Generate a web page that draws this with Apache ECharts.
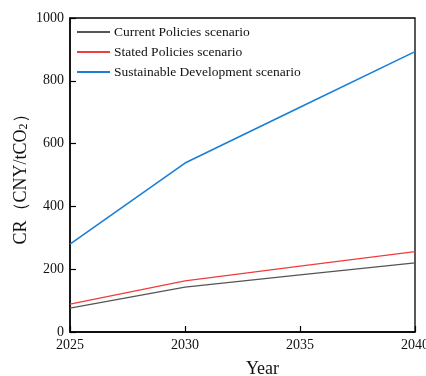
<!DOCTYPE html>
<html>
<head>
<meta charset="utf-8">
<script src="https://cdn.jsdelivr.net/npm/echarts@6/dist/echarts.min.js"></script>
<style>
  html, body { margin: 0; padding: 0; background: #fff; }
  #chart { width: 426px; height: 376px; }
</style>
</head>
<body>
<div id="chart"></div>
<script>
// years on the x axis
var years = [2025, 2030, 2035, 2040]
// carbon price, CNY/tCO2
var currentPolicies = [76, 143, 182, 220]
var statedPolicies = [89, 163, 210, 256]
var sustainableDev = [280, 538, 716, 893]
var yTicks = [0, 200, 400, 600, 800, 1000]

var serif = '"Liberation Serif", "DejaVu Serif", serif'

var chart = echarts.init(document.getElementById('chart'))
chart.setOption({
  animation: false,
  textStyle: { fontFamily: serif },
  grid: {
    left: 70,
    right: 11,
    top: 18,
    bottom: 44,
    outerBoundsMode: 'none',
    containLabel: false,
    show: true,
    borderColor: '#000',
    borderWidth: 1.3
  },
  legend: {
    orient: 'vertical',
    left: 72,
    top: 20,
    itemWidth: 33,
    itemHeight: 2,
    itemGap: 6,
    icon: 'rect',
    textStyle: { fontFamily: serif, fontSize: 13.5, color: '#111', padding: [0, 0, 0, -1] },
    data: ['Current Policies scenario', 'Stated Policies scenario', 'Sustainable Development scenario']
  },
  xAxis: {
    type: 'value',
    min: years[0],
    max: years[years.length - 1],
    interval: 5,
    name: 'Year',
    nameLocation: 'middle',
    nameGap: 28,
    nameMoveOverlap: false,
    nameTextStyle: { fontFamily: serif, fontSize: 18, color: '#111', padding: [0, 0, 0, 40] },
    axisLine: { lineStyle: { color: '#000', width: 1.5 } },
    axisTick: { inside: true, length: 6, lineStyle: { color: '#000', width: 1.2 } },
    axisLabel: { fontFamily: serif, fontSize: 14, color: '#111', margin: 6, formatter: function(v) { return String(v) } },
    splitLine: { show: false }
  },
  yAxis: {
    type: 'value',
    min: yTicks[0],
    max: yTicks[yTicks.length - 1],
    interval: 200,
    name: 'CR（CNY/tCO{sub|2}）',
    nameLocation: 'middle',
    nameGap: 40,
    nameMoveOverlap: false,
    nameRotate: 90,
    nameTextStyle: {
      fontFamily: serif,
      fontSize: 18,
      color: '#111',
      rich: {
        sub: { fontFamily: serif, fontSize: 12, color: '#111', verticalAlign: 'bottom', padding: [6, 0, 0, 0] }
      }
    },
    axisLine: { show: true, lineStyle: { color: '#000', width: 1.5 } },
    axisTick: { show: true, inside: true, length: 6, lineStyle: { color: '#000', width: 1.2 } },
    axisLabel: { fontFamily: serif, fontSize: 14, color: '#111', margin: 6, formatter: function(v) { return String(v) } },
    splitLine: { show: false }
  },
  series: [
    {
      name: 'Current Policies scenario',
      type: 'line',
      symbol: 'none',
      color: '#555555',
      lineStyle: { width: 1.3, color: '#555555' },
      data: years.map(function(y, i) { return [y, currentPolicies[i]] })
    },
    {
      name: 'Stated Policies scenario',
      type: 'line',
      symbol: 'none',
      color: '#f03c3c',
      lineStyle: { width: 1.3, color: '#f03c3c' },
      data: years.map(function(y, i) { return [y, statedPolicies[i]] })
    },
    {
      name: 'Sustainable Development scenario',
      type: 'line',
      symbol: 'none',
      color: '#1a7fd6',
      lineStyle: { width: 1.6, color: '#1a7fd6' },
      data: years.map(function(y, i) { return [y, sustainableDev[i]] })
    }
  ]
})
</script>
</body>
</html>
